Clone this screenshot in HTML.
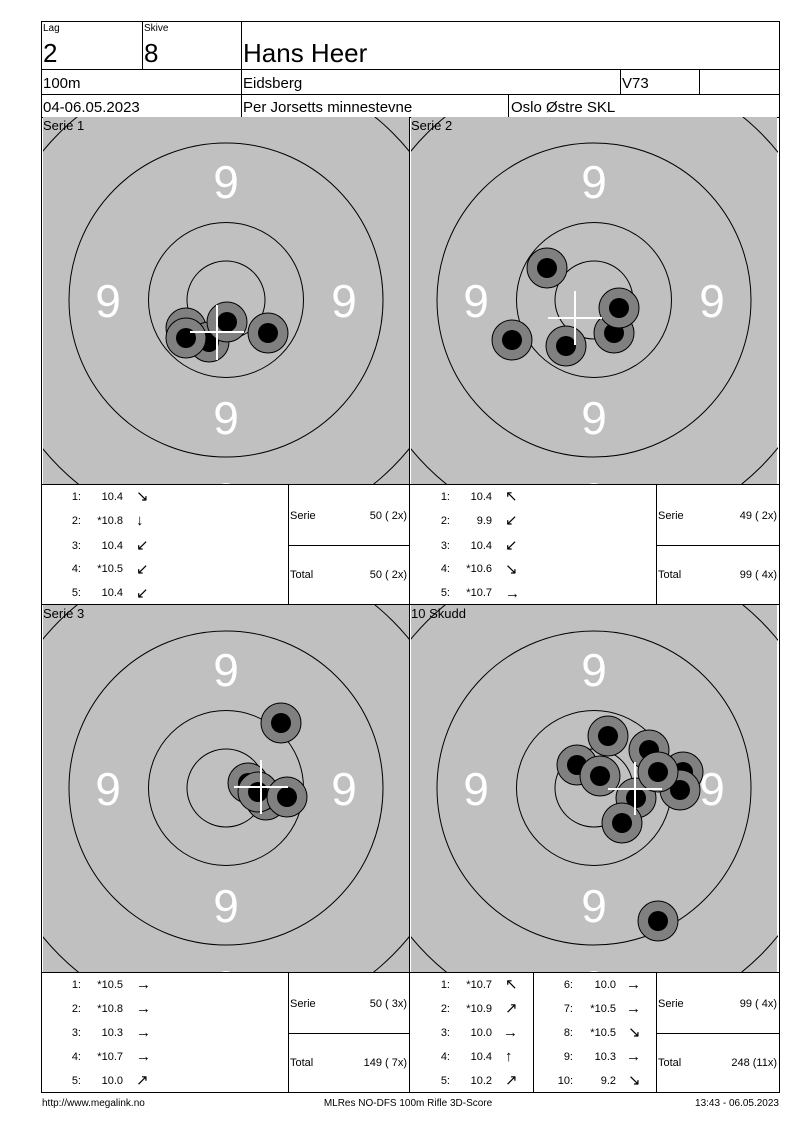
<!DOCTYPE html>
<html><head><meta charset="utf-8"><style>
body{margin:0;background:#fff;width:800px;height:1130px;overflow:hidden}
svg{position:absolute;left:0;top:0}
text{font-family:"Liberation Sans",Arial,sans-serif}
</style></head><body>
<svg width="800" height="1130" viewBox="0 0 800 1130">
<defs>
<g id="tgt">
<rect x="-183" y="-183" width="366" height="367" fill="#c0c0c0"/>
<circle r="236" fill="none" stroke="#000" stroke-width="1"/>
<circle r="157" fill="none" stroke="#000" stroke-width="1"/>
<circle r="77.5" fill="none" stroke="#000" stroke-width="1"/>
<circle r="39" fill="none" stroke="#000" stroke-width="1"/>
<circle cy="-195" r="12" fill="#fff"/>
<circle cy="195" r="12" fill="#fff"/>
</g>
<g id="t9" fill="#fff" font-size="46" text-anchor="middle">
</g>
<g id="s"><circle r="20" fill="#808080" stroke="#000" stroke-width="1"/><circle r="10" fill="#000"/></g>
<clipPath id="c1"><rect x="43" y="117" width="366" height="367"/></clipPath>
<clipPath id="c2"><rect x="411" y="117" width="367" height="367"/></clipPath>
<clipPath id="c3"><rect x="43" y="605" width="366" height="367"/></clipPath>
<clipPath id="c4"><rect x="411" y="605" width="367" height="367"/></clipPath>
</defs>
<g fill="none" stroke="#000" stroke-width="1">
<rect x="41.5" y="21.5" width="738" height="1071"/>
<line x1="41" y1="69.5" x2="780" y2="69.5"/>
<line x1="41" y1="94.5" x2="780" y2="94.5"/>
<line x1="41" y1="117.5" x2="780" y2="117.5"/>
<line x1="142.5" y1="21" x2="142.5" y2="69"/>
<line x1="241.5" y1="21" x2="241.5" y2="117"/>
<line x1="620.5" y1="69" x2="620.5" y2="94"/>
<line x1="699.5" y1="69" x2="699.5" y2="94"/>
<line x1="508.5" y1="94" x2="508.5" y2="117"/>
<line x1="409.5" y1="117" x2="409.5" y2="1092"/>
<line x1="41" y1="484.5" x2="780" y2="484.5"/>
<line x1="41" y1="604.5" x2="780" y2="604.5"/>
<line x1="41" y1="972.5" x2="780" y2="972.5"/>
<line x1="288.5" y1="484" x2="288.5" y2="604"/>
<line x1="656.5" y1="484" x2="656.5" y2="604"/>
<line x1="288.5" y1="972" x2="288.5" y2="1092"/>
<line x1="533.5" y1="972" x2="533.5" y2="1092"/>
<line x1="656.5" y1="972" x2="656.5" y2="1092"/>
<line x1="288" y1="545.5" x2="409" y2="545.5"/>
<line x1="656" y1="545.5" x2="780" y2="545.5"/>
<line x1="288" y1="1033.5" x2="409" y2="1033.5"/>
<line x1="656" y1="1033.5" x2="780" y2="1033.5"/>
</g>
<g font-size="10"><text x="43" y="31">Lag</text><text x="144" y="31">Skive</text></g>
<g font-size="26"><text x="43" y="62">2</text><text x="144" y="62">8</text><text x="243" y="62">Hans Heer</text></g>
<g font-size="15"><text x="43" y="88">100m</text><text x="243" y="88">Eidsberg</text><text x="622" y="88">V73</text>
<text x="43" y="112">04-06.05.2023</text><text x="243" y="112">Per Jorsetts minnestevne</text><text x="511" y="112">Oslo Østre SKL</text></g>

<!-- Target 1 -->
<g clip-path="url(#c1)">
<use href="#tgt" transform="translate(226,300)"/>
<g fill="#fff" font-size="46" text-anchor="middle"><text x="226" y="198">9</text><text x="108" y="317">9</text><text x="344" y="317">9</text><text x="226" y="434">9</text></g>
<use href="#s" x="186" y="328"/><use href="#s" x="209" y="342"/><use href="#s" x="186" y="338"/><use href="#s" x="227" y="322"/><use href="#s" x="268" y="333"/>
<g stroke="#fff" stroke-width="2"><line x1="190" y1="332" x2="244" y2="332"/><line x1="217" y1="305" x2="217" y2="360"/></g>
</g>
<text x="43" y="130" font-size="13">Serie 1</text>
<!-- Target 2 -->
<g clip-path="url(#c2)">
<use href="#tgt" transform="translate(594,300)"/>
<g fill="#fff" font-size="46" text-anchor="middle"><text x="594" y="198">9</text><text x="476" y="317">9</text><text x="712" y="317">9</text><text x="594" y="434">9</text></g>
<use href="#s" x="547" y="268"/><use href="#s" x="512" y="340"/><use href="#s" x="566" y="346"/><use href="#s" x="614" y="333"/><use href="#s" x="619" y="308"/>
<g stroke="#fff" stroke-width="2"><line x1="548" y1="318" x2="602" y2="318"/><line x1="575" y1="291" x2="575" y2="345"/></g>
</g>
<text x="411" y="130" font-size="13">Serie 2</text>
<!-- Target 3 -->
<g clip-path="url(#c3)">
<use href="#tgt" transform="translate(226,788)"/>
<g fill="#fff" font-size="46" text-anchor="middle"><text x="226" y="686">9</text><text x="108" y="805">9</text><text x="344" y="805">9</text><text x="226" y="922">9</text></g>
<use href="#s" x="281" y="723"/><use href="#s" x="266" y="800"/><use href="#s" x="248" y="783"/><use href="#s" x="258" y="792"/><use href="#s" x="287" y="797"/>
<g stroke="#fff" stroke-width="2"><line x1="234" y1="787" x2="288" y2="787"/><line x1="261" y1="760" x2="261" y2="814"/></g>
</g>
<text x="43" y="618" font-size="13">Serie 3</text>
<!-- Target 4 -->
<g clip-path="url(#c4)">
<use href="#tgt" transform="translate(594,788)"/>
<g fill="#fff" font-size="46" text-anchor="middle"><text x="594" y="686">9</text><text x="476" y="805">9</text><text x="712" y="805">9</text><text x="594" y="922">9</text></g>
<use href="#s" x="608" y="736"/><use href="#s" x="577" y="765"/><use href="#s" x="649" y="750"/><use href="#s" x="683" y="772"/><use href="#s" x="680" y="790"/><use href="#s" x="636" y="798"/><use href="#s" x="600" y="776"/><use href="#s" x="658" y="772"/><use href="#s" x="622" y="823"/><use href="#s" x="658" y="921"/>
<g stroke="#fff" stroke-width="2"><line x1="608" y1="789" x2="662" y2="789"/><line x1="635" y1="762" x2="635" y2="815"/></g>
</g>
<text x="411" y="618" font-size="13">10 Skudd</text>

<g font-size="11">
<!-- table 1 -->
<g text-anchor="end"><text x="81" y="500">1:</text><text x="81" y="524">2:</text><text x="81" y="549">3:</text><text x="81" y="572">4:</text><text x="81" y="596">5:</text>
<text x="123" y="500">10.4</text><text x="123" y="524">*10.8</text><text x="123" y="549">10.4</text><text x="123" y="572">*10.5</text><text x="123" y="596">10.4</text>
<text x="407" y="519">50 ( 2x)</text><text x="407" y="578">50 ( 2x)</text></g>
<g font-size="15"><text x="136" y="501">↘</text><text x="136" y="525">↓</text><text x="136" y="550">↙</text><text x="136" y="574">↙</text><text x="136" y="598">↙</text></g>
<text x="290" y="519">Serie</text><text x="290" y="578">Total</text>
<!-- table 2 -->
<g text-anchor="end"><text x="450" y="500">1:</text><text x="450" y="524">2:</text><text x="450" y="549">3:</text><text x="450" y="572">4:</text><text x="450" y="596">5:</text>
<text x="492" y="500">10.4</text><text x="492" y="524">9.9</text><text x="492" y="549">10.4</text><text x="492" y="572">*10.6</text><text x="492" y="596">*10.7</text>
<text x="777" y="519">49 ( 2x)</text><text x="777" y="578">99 ( 4x)</text></g>
<g font-size="15"><text x="505" y="501">↖</text><text x="505" y="525">↙</text><text x="505" y="550">↙</text><text x="505" y="574">↘</text><text x="505" y="598">→</text></g>
<text x="658" y="519">Serie</text><text x="658" y="578">Total</text>
<!-- table 3 -->
<g text-anchor="end"><text x="81" y="988">1:</text><text x="81" y="1012">2:</text><text x="81" y="1036">3:</text><text x="81" y="1060">4:</text><text x="81" y="1084">5:</text>
<text x="123" y="988">*10.5</text><text x="123" y="1012">*10.8</text><text x="123" y="1036">10.3</text><text x="123" y="1060">*10.7</text><text x="123" y="1084">10.0</text>
<text x="407" y="1007">50 ( 3x)</text><text x="407" y="1066">149 ( 7x)</text></g>
<g font-size="15"><text x="136" y="989">→</text><text x="136" y="1013">→</text><text x="136" y="1037">→</text><text x="136" y="1061">→</text><text x="136" y="1085">↗</text></g>
<text x="290" y="1007">Serie</text><text x="290" y="1066">Total</text>
<!-- table 4 -->
<g text-anchor="end"><text x="450" y="988">1:</text><text x="450" y="1012">2:</text><text x="450" y="1036">3:</text><text x="450" y="1060">4:</text><text x="450" y="1084">5:</text>
<text x="492" y="988">*10.7</text><text x="492" y="1012">*10.9</text><text x="492" y="1036">10.0</text><text x="492" y="1060">10.4</text><text x="492" y="1084">10.2</text>
<text x="573" y="988">6:</text><text x="573" y="1012">7:</text><text x="573" y="1036">8:</text><text x="573" y="1060">9:</text><text x="573" y="1084">10:</text>
<text x="616" y="988">10.0</text><text x="616" y="1012">*10.5</text><text x="616" y="1036">*10.5</text><text x="616" y="1060">10.3</text><text x="616" y="1084">9.2</text>
<text x="777" y="1007">99 ( 4x)</text><text x="777" y="1066">248 (11x)</text></g>
<g font-size="15"><text x="505" y="989">↖</text><text x="505" y="1013">↗</text><text x="503" y="1037">→</text><text x="505" y="1061">↑</text><text x="505" y="1085">↗</text>
<text x="626" y="989">→</text><text x="626" y="1013">→</text><text x="628" y="1037">↘</text><text x="626" y="1061">→</text><text x="628" y="1085">↘</text></g>
<text x="658" y="1007">Serie</text><text x="658" y="1066">Total</text>
</g>
<g font-size="10"><text x="42" y="1106">http://www.megalink.no</text><text x="408" y="1106" text-anchor="middle">MLRes NO-DFS 100m Rifle 3D-Score</text><text x="779" y="1106" text-anchor="end">13:43 - 06.05.2023</text></g>
</svg>
</body></html>
